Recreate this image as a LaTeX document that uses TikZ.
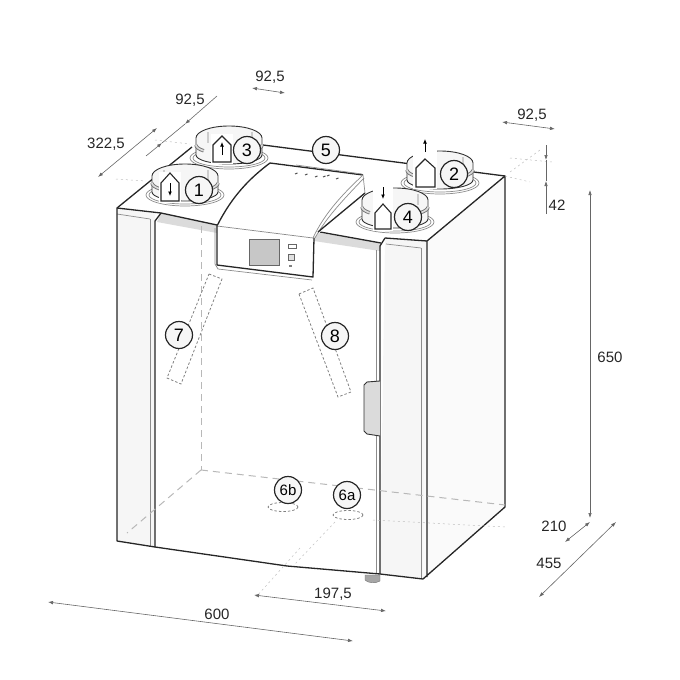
\documentclass[tikz,border=0pt]{standalone}
\usepackage{fontspec}
\setmainfont{Liberation Sans}
\usetikzlibrary{calc,positioning,arrows.meta}
\definecolor{hiddenline}{gray}{0.72}
\definecolor{panelfill}{gray}{0.965}
\definecolor{bandfill}{gray}{0.86}
\tikzset{
  outline/.style={draw=black!85,line width=1.3pt,line join=round},
  thinline/.style={draw=black!45,line width=0.7pt},
  hidden/.style={draw=hiddenline,line width=1pt,dash pattern=on 7pt off 5pt},
  hiddenbox/.style={draw=black!50,line width=0.8pt,dash pattern=on 2.5pt off 2pt},
  faint/.style={draw=black!25,line width=0.5pt,dash pattern=on 2pt off 3pt},
  dimline/.style={draw=black!60,line width=0.6pt,{Latex[length=5pt,width=3.5pt]}-{Latex[length=5pt,width=3.5pt]}},
  dimtext/.style={font=\fontsize{15}{17}\selectfont,text=black!85,inner sep=0pt},
  bubble/.style={circle,draw=black!85,line width=1.2pt,fill=panelfill,minimum size=27pt,inner sep=0pt,font=\fontsize{18}{20}\selectfont},
  smallbubble/.style={bubble,font=\fontsize{15}{17}\selectfont},
  duct/.style={draw=black!80,line width=0.9pt},
  house/.style={draw=black!85,line width=1.1pt,fill=white,line join=miter},
  flow/.style={draw=black,line width=0.9pt,-{Latex[length=4.5pt,width=4pt]}},
}
\begin{document}
\begin{tikzpicture}[x=1pt,y=-1pt]
  \useasboundingbox (0,0) rectangle (680,680);
  % body corners
  \coordinate (tl) at (117,208);
  \coordinate (tb) at (192,147);
  \coordinate (tc) at (263,145);
  \coordinate (tr) at (505,176);
  \coordinate (fr) at (427,241);
  \coordinate (bl) at (117,541);
  \coordinate (bd) at (155,547);
  \coordinate (bm) at (380,574);
  \coordinate (brf) at (423,579);
  \coordinate (brb) at (505,507);
  % side and pillars
  \fill[panelfill] (tl) -- (155,213) -- (bd) -- (bl) -- cycle;
  \fill[panelfill] (385,238) -- (fr) -- (427,577) -- (brf) -- (bm) -- cycle;
  \fill[black!2] (fr) -- (tr) -- (brb) -- (brf) -- cycle;
  % band under the top
  \fill[bandfill] (161,213) -- (217,225) -- (217,233) -- (157,222) -- cycle;
  \fill[bandfill] (314,232) -- (381,243) -- (380,251) -- (314,241) -- cycle;
  \draw[thinline] (117,214) -- (150,219);
  \draw[thinline] (386,244) -- (421,248);
  \draw[thinline] (150,219) -- (150,546);
  \draw[thinline] (376,250) -- (376,574);
  \draw[thinline] (421,248) -- (421,578);
  % outer lines
  \draw[outline] (tb) -- (tl) -- (bl) -- (bd) -- (287,566) -- (bm) -- (brf) -- (brb) -- (tr) -- (fr) -- (427,577);
  \draw[outline] (tc) -- (tr);
  \draw[outline] (tl) -- (161,213) -- (217,225);
  \draw[outline] (320,232) -- (381,243);
  \draw[outline] (385,238) -- (fr);
  \draw[outline] (161,213) -- (155,221) -- (bd);
  \draw[outline] (385,238) -- (380,246) -- (bm);
  % foot and handle
  \draw[fill=black!35,draw=black!55] (365,575) -- (380,575) -- (380,581) .. controls (375,584) and (368,583) .. (365,580) -- cycle;
  \draw[fill=bandfill,draw=black!80,line width=0.9pt] (380,381) -- (367,382) -- (364,385) -- (364,431) -- (367,434) -- (380,436);
  % hidden edges
  \coordinate (fl) at (201,470);
  \draw[hidden] (201,226) -- (fl);
  \draw[hidden] (fl) -- (505,505);
  \draw[hidden] (fl) -- (127,533);
  \draw[hiddenbox] (209,274) -- (222,279) -- (181,384) -- (167,378) -- cycle;
  \draw[hiddenbox] (299,294) -- (313,288) -- (351,392) -- (338,397) -- cycle;
  \draw[hiddenbox] (283,507) ellipse (15 and 4.5);
  \draw[hiddenbox] (348,515) ellipse (15 and 4.5);
  % control panel
  \coordinate (pa) at (270,163);
  \coordinate (pb) at (363,175);
  \coordinate (pc) at (365,193);
  \coordinate (pl) at (217,226);
  \coordinate (pr) at (313,238);
  \fill[white] (pa) -- (pb) -- (pc) -- (pr) -- (314,277) -- (217,265) -- (pl) .. controls (232,196) and (250,178) .. (pa);
  \draw[outline] (pl) .. controls (232,196) and (250,178) .. (pa) -- (pb);
  \draw[thinline] (pb) .. controls (345,192) and (325,212) .. (pr);
  \draw[thinline] (364,178) .. controls (347,196) and (327,216) .. (315,238);
  \draw[thinline] (pb) -- (pc);
  \draw[outline] (pc) -- (318,232);
  \draw[thinline] (pl) -- (pr);
  \draw[thinline] (215,228) -- (215,264) -- (218,269) -- (312,280);
  \draw[outline] (pl) -- (217,265) -- (313,277) -- (314,238);
  \draw[draw=black!60,fill=black!22] (249,239) rectangle (279,265);
  \draw[draw=black!60,fill=white] (288,244) rectangle (296,248);
  \draw[draw=black!60,fill=black!12] (288,254) rectangle (294,260);
  \draw[draw=black!50,fill=black!30] (289,265) rectangle (291,266);
  \draw[thinline] (296,165) -- (362,174);
  \foreach \xa/\ya in {295/174,305/175,315/177,323/177,327/176,336/179}
    \draw[draw=black!70,line width=1pt] (\xa,\ya) -- ++(2.5,-1);
  % ducts 3 1 2 4
  \foreach \xc/\yc/\yb in {229/138/158,185/176/195,440/163/183,395/200/222}{
    \draw[thinline,fill=white] (\xc,\yb) ellipse (39 and 11);
    \draw[thinline] (\xc,\yb) ellipse (36 and 9);
    \fill[panelfill] (\xc-33,\yc) arc[start angle=180,end angle=360,x radius=33,y radius=12] -- (\xc+33,\yb-3) arc[start angle=0,end angle=180,x radius=33,y radius=9] -- cycle;
    \draw[duct] (\xc-33,\yc) arc[start angle=180,end angle=360,x radius=33,y radius=12] -- (\xc+33,\yb-3) arc[start angle=0,end angle=180,x radius=33,y radius=9] -- cycle;
    \draw[draw=black!55,line width=3.4pt] (\xc-33,\yc+7) arc[start angle=180,end angle=140,x radius=33,y radius=9];
    \draw[draw=bandfill,line width=1.6pt] (\xc-33,\yc+7) arc[start angle=180,end angle=140,x radius=33,y radius=9];
    \draw[draw=black!55,line width=3.4pt] (\xc+33,\yc+7) arc[start angle=0,end angle=40,x radius=33,y radius=9];
    \draw[draw=bandfill,line width=1.6pt] (\xc+33,\yc+7) arc[start angle=0,end angle=40,x radius=33,y radius=9];
    \draw[draw=black!20,line width=1.2pt] (\xc-21,\yc-6) -- (\xc-21,\yc+5);
    \draw[draw=black!20,line width=1.2pt] (\xc+23,\yc-6) -- (\xc+23,\yc+5);
  }
  % hiding the parts behind the icons
  \fill[white] (211,134) rectangle (233,164);
  \fill[white] (159,172) rectangle (181,203);
  \fill[white] (413,137) rectangle (437,189);
  \fill[white] (373,185) rectangle (393,231);
  % house icons
  \draw[house] (170,173) -- (179,183) -- (179,201) -- (161,201) -- (161,183) -- cycle;
  \draw[house] (222,136) -- (231,145) -- (231,162) -- (213,162) -- (213,145) -- cycle;
  \draw[house] (425,159) -- (435,168) -- (435,187) -- (416,187) -- (416,168) -- cycle;
  \draw[house] (383,204) -- (391,213) -- (391,229) -- (375,229) -- (375,213) -- cycle;
  \coordinate (fa1) at (170,183);
  \coordinate (fa2) at (170,196);
  \coordinate (fc1) at (222,155);
  \coordinate (fc2) at (222,142);
  \coordinate (fb1) at (425,152);
  \coordinate (fb2) at (425,139);
  \coordinate (fd1) at (383,187);
  \coordinate (fd2) at (383,199);
  \draw[flow] (fa1) -- (fa2);
  \draw[flow] (fc1) -- (fc2);
  \draw[flow] (fb1) -- (fb2);
  \draw[flow] (fd1) -- (fd2);
  % numbers
  \node[bubble] (n1) at (199,190) {1};
  \node[bubble] (n2) at (454,174) {2};
  \node[bubble] (n3) at (247,150) {3};
  \node[bubble] (n4) at (408,217) {4};
  \node[bubble] (n5) at (326,150) {5};
  \node[bubble] (n7) at (179,335) {7};
  \node[bubble] (n8) at (335,336) {8};
  \node[smallbubble] (n6b) at (288,490) {6b};
  \node[smallbubble] (n6a) at (347,495) {6a};
  % faint extension lines
  \draw[faint] (116,179) -- (146,181);
  \draw[faint] (155,140) -- (190,144);
  \draw[faint] (300,548) -- (256,597);
  \draw[faint] (335,522) -- (294,565);
  \draw[faint] (373,520) -- (505,527);
  \draw[faint] (510,172) -- (540,150);
  \draw[faint] (510,158) -- (552,162);
  \draw[faint] (505,176) -- (530,182);
  % dimensions
  \coordinate (d1a) at (252,88);
  \coordinate (d1b) at (285,93);
  \coordinate (d2a) at (146,156);
  \coordinate (d2b) at (217,96);
  \coordinate (d2c) at (162,143);
  \coordinate (d2d) at (185,124);
  \coordinate (d3a) at (98,177);
  \coordinate (d3b) at (157,128);
  \coordinate (d4a) at (502,122);
  \coordinate (d4b) at (555,129);
  \coordinate (d5a) at (546,145);
  \coordinate (d5b) at (546,214);
  \coordinate (d5c) at (546,160);
  \coordinate (d5d) at (546,181);
  \coordinate (d6a) at (590,190);
  \coordinate (d6b) at (590,518);
  \coordinate (d7a) at (590,522);
  \coordinate (d7b) at (565,542);
  \coordinate (d8a) at (616,522);
  \coordinate (d8b) at (539,597);
  \coordinate (d9a) at (254,595);
  \coordinate (d9b) at (386,611);
  \coordinate (d10a) at (48,602);
  \coordinate (d10b) at (353,641);
  \draw[dimline] (d1a) -- (d1b);
  \draw[dimline,{Latex[length=5pt,width=3.5pt]}-] (d2c) -- (d2a);
  \draw[dimline,-{Latex[length=5pt,width=3.5pt]}] (d2b) -- (d2d);
  \draw[draw=black!60,line width=0.6pt] (d2c) -- (d2d);
  \draw[dimline] (d3a) -- (d3b);
  \draw[dimline] (d4a) -- (d4b);
  \draw[dimline,-{Latex[length=5pt,width=3.5pt]}] (d5a) -- (d5c);
  \draw[dimline,-{Latex[length=5pt,width=3.5pt]}] (d5b) -- (d5d);
  \draw[draw=black!60,line width=0.6pt] (d5c) -- (d5d);
  \draw[dimline] (d6a) -- (d6b);
  \draw[dimline] (d7a) -- (d7b);
  \draw[dimline] (d8a) -- (d8b);
  \draw[dimline] (d9a) -- (d9b);
  \draw[dimline] (d10a) -- (d10b);
  \node[dimtext] (l1) at (270,77) {92,5};
  \node[dimtext] (l2) at (190,100) {92,5};
  \node[dimtext] (l3) at (106,144) {322,5};
  \node[dimtext] (l4) at (532,115) {92,5};
  \node[dimtext] (l5) at (557,205) {42};
  \node[dimtext] (l6) at (610,357) {650};
  \node[dimtext] (l7) at (554,526) {210};
  \node[dimtext] (l8) at (549,563) {455};
  \node[dimtext] (l9) at (333,594) {197,5};
  \node[dimtext] (l10) at (217,614) {600};
\end{tikzpicture}
\end{document}
